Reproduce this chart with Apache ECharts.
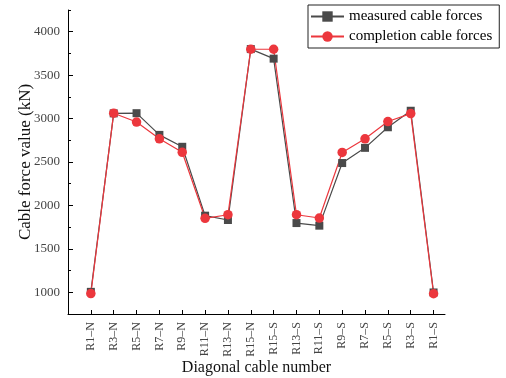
<!DOCTYPE html>
<html>
<head>
<meta charset="utf-8">
<script src="https://cdn.jsdelivr.net/npm/echarts@6/dist/echarts.min.js"></script>
<style>html,body{margin:0;padding:0;background:#fff}#c{width:506px;height:378px}</style>
</head>
<body>
<div id="c"></div>
<script>
const categories = ["R1–N","R3–N","R5–N","R7–N","R9–N","R11–N","R13–N","R15–N","R15–S","R13–S","R11–S","R9–S","R7–S","R5–S","R3–S","R1–S"];
const measured = [1005, 3060, 3062, 2812, 2675, 1882, 1832, 3800, 3690, 1797, 1767, 2488, 2663, 2900, 3090, 998];
const completion = [985, 3062, 2960, 2767, 2612, 1852, 1893, 3798, 3798, 1893, 1855, 2610, 2767, 2966, 3057, 983];
const yMajor = [1000, 1500, 2000, 2500, 3000, 3500, 4000];
const yMinor = [1250, 1750, 2250, 2750, 3250, 3750, 4250];
const xTicks = categories.map((c, i) => i + 1);

const chart = echarts.init(document.getElementById('c'), null, {renderer: 'canvas'});
const serif = '"Liberation Serif","DejaVu Serif",serif';
const RED = '#ec373d', GREY = '#4a4a4a';
chart.setOption({
  animation: false,
  backgroundColor: '#fff',
  grid: {left: 68, right: 61, top: 10, bottom: 64, containLabel: false, outerBoundsMode: 'none'},
  legend: {
    orient: 'vertical', left: 308, top: 5,
    padding: [4, 7, 4, 2], itemGap: 5, itemWidth: 33, itemHeight: 13,
    borderColor: '#222', borderWidth: 1,
    textStyle: {fontFamily: serif, fontSize: 15, color: '#000'},
    data: ['measured cable forces', 'completion cable forces']
  },
  xAxis: {
    type: 'value', min: 0, max: 16.5,
    name: 'Diagonal cable number', nameLocation: 'middle', nameGap: 46, nameMoveOverlap: false,
    nameTextStyle: {fontFamily: serif, fontSize: 16, color: '#111'},
    axisLine: {show: true, lineStyle: {color: '#000', width: 1}},
    axisTick: {show: true, inside: true, length: 4, customValues: xTicks, lineStyle: {color: '#000'}},
    axisLabel: {rotate: 90, customValues: xTicks, fontFamily: serif, fontSize: 12, color: '#444', margin: 8,
      formatter: v => categories[Math.round(v) - 1] || ''},
    splitLine: {show: false}
  },
  yAxis: [{
    type: 'value', min: 750, max: 4250,
    name: 'Cable force value (kN)', nameLocation: 'middle', nameGap: 34, nameRotate: 90, nameMoveOverlap: false,
    nameTextStyle: {fontFamily: serif, fontSize: 17, color: '#111'},
    axisLine: {show: true, lineStyle: {color: '#000', width: 1}},
    axisTick: {show: true, inside: true, length: 5, customValues: yMajor, lineStyle: {color: '#000'}},
    axisLabel: {customValues: yMajor, fontFamily: serif, fontSize: 13, color: '#444', margin: 8,
      formatter: v => String(v)},
    splitLine: {show: false}
  }, {
    type: 'value', min: 750, max: 4250, position: 'left',
    axisLine: {show: false},
    axisTick: {show: true, inside: true, length: 3, customValues: yMinor, lineStyle: {color: '#000'}},
    axisLabel: {show: false},
    splitLine: {show: false}
  }],
  series: [{
    name: 'measured cable forces', type: 'line',
    data: measured.map((v, i) => [i + 1, v]),
    symbol: 'rect', symbolSize: 8,
    itemStyle: {color: GREY}, lineStyle: {color: GREY, width: 1.2}
  }, {
    name: 'completion cable forces', type: 'line',
    data: completion.map((v, i) => [i + 1, v]),
    symbol: 'circle', symbolSize: 9.5,
    itemStyle: {color: RED}, lineStyle: {color: RED, width: 1.2}
  }]
});
</script>
</body>
</html>
